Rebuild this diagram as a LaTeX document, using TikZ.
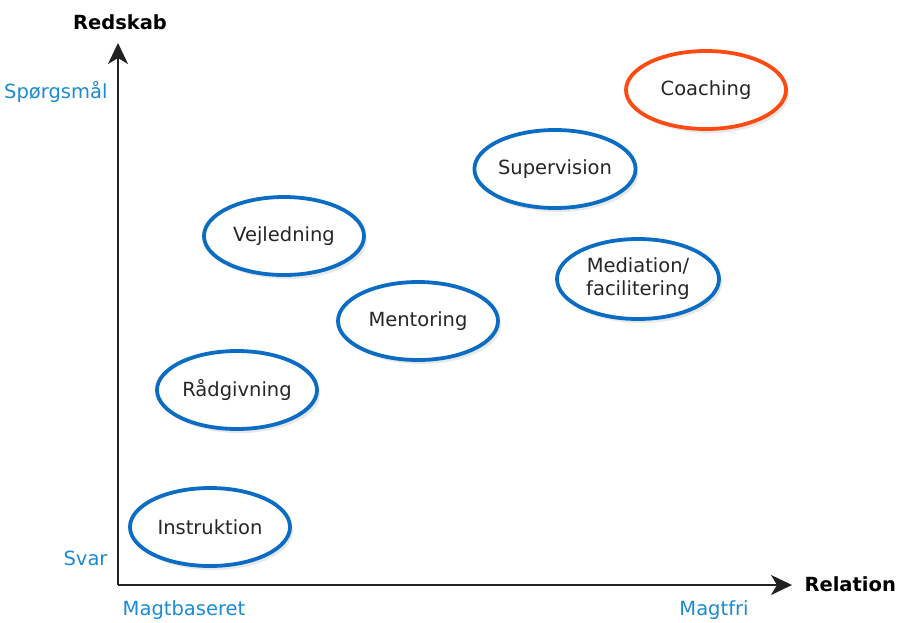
\documentclass[tikz,border=0pt]{standalone}
\usepackage{fontspec}
\setmainfont{DejaVu Sans}
\usetikzlibrary{arrows.meta, shapes.geometric, shadows}

\definecolor{ringblue}{HTML}{0B6CC4}
\definecolor{ringred}{HTML}{FF4A12}
\definecolor{tagblue}{HTML}{1A8AD4}
\definecolor{axisgray}{HTML}{222222}

\tikzset{
  method/.style={ellipse, draw=ringblue, line width=3.8pt, fill=white,
    minimum width=160pt, minimum height=78pt, inner sep=0pt,
    align=center, font=\fontsize{19.5}{23}\selectfont, text=black!85,
    drop shadow={opacity=0.18, shadow xshift=3pt, shadow yshift=-4pt}},
  tag/.style={text=tagblue, font=\fontsize{19.5}{22}\selectfont},
  axislabel/.style={font=\bfseries\fontsize{19.5}{22}\selectfont},
  axis/.style={draw=axisgray, line width=2pt,
    -{Stealth[length=21pt, width=20pt, inset=6pt]}}
}

\begin{document}
\begin{tikzpicture}[x=1pt, y=-1pt]
  \useasboundingbox (0,0) rectangle (899,622);

  \coordinate (O) at (118,585);
  \coordinate (ytop) at (118,43);
  \coordinate (xend) at (792,585);

  \draw[axis] (O) -- (ytop);
  \draw[axis] (O) -- (xend);

  \node[axislabel] (redskab) at (120,22) {Redskab};
  \node[axislabel, anchor=west] (relation) at (801,584) {Relation};

  \node[tag, anchor=east] (spm) at (111,92) {Spørgsmål};
  \node[tag, anchor=east] (svar) at (111,558) {Svar};
  \node[tag] (magtbas) at (184,610) {Magtbaseret};
  \node[tag] (magtfri) at (714,610) {Magtfri};

  \node[method, draw=ringred] (coach) at (706,90) {Coaching};
  \node[method] (superv) at (555,169) {Supervision};
  \node[method] (vejl) at (284,236) {Vejledning};
  \node[method, minimum width=162pt, minimum height=80pt] (media) at (638,279) {Mediation/\\facilitering};
  \node[method] (mentor) at (418,321) {Mentoring};
  \node[method] (raad) at (237,390) {Rådgivning};
  \node[method] (instr) at (210,527) {Instruktion};
\end{tikzpicture}
\end{document}
